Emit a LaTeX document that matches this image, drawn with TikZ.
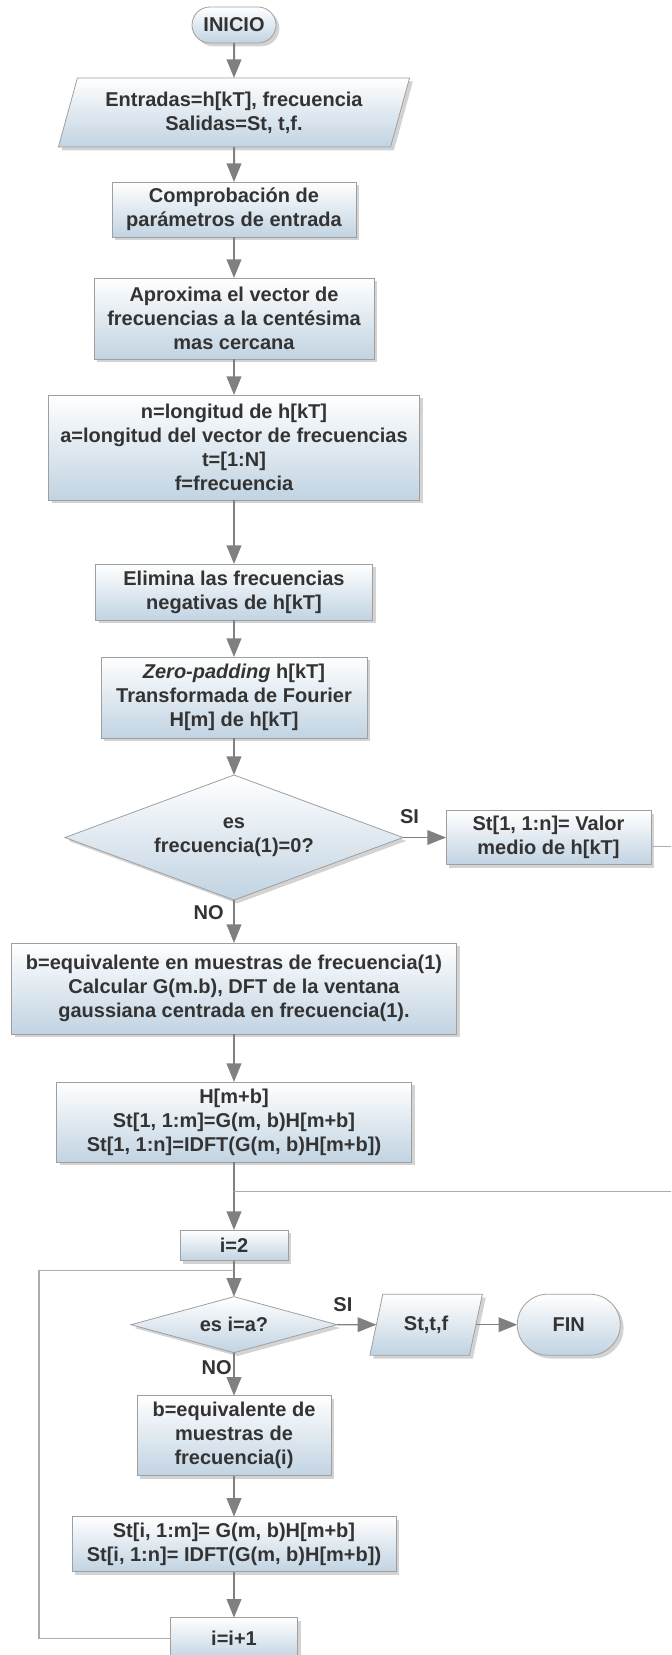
\documentclass[tikz,border=0pt]{standalone}
\usepackage{fontspec}
\setmainfont{Liberation Sans}
\usetikzlibrary{shapes.geometric, arrows.meta, positioning, shadows, calc}
\definecolor{boxblue}{RGB}{193,211,226}
\definecolor{linegray}{RGB}{128,128,128}
\definecolor{thingray}{RGB}{172,172,172}
\tikzset{
    base/.style={draw=gray!75, line width=0.6pt, top color=white, bottom color=boxblue, text=black!80, font=\fontsize{15}{18}\selectfont\bfseries, align=center, inner sep=3pt, outer sep=0pt, drop shadow={opacity=0.35, shadow xshift=2.5pt, shadow yshift=-2.5pt}},
    box/.style={base, rectangle},
    term/.style={base, rectangle, rounded corners=#1},
    io/.style={base, trapezium, trapezium left angle=72, trapezium right angle=108, trapezium stretches=true},
    decision/.style={base, diamond, inner sep=0pt},
    arrow/.style={-{Triangle[length=14pt, width=11pt]}, line width=1.5pt, linegray},
    harrow/.style={arrow, line width=1pt},
    line/.style={line width=0.8pt, thingray},
    lbl/.style={font=\fontsize{15}{18}\selectfont\bfseries, text=black!80, inner sep=1pt}
}
\begin{document}
\begin{tikzpicture}[x=0.75pt, y=-0.75pt]
    \useasboundingbox (0,0) rectangle (671,1655);
    \clip (0,0) rectangle (671,1655);
    \node [term=13.5pt, minimum width=63pt, minimum height=27pt] (ini) at (234,25) {INICIO};
    \node [io, minimum width=264pt, minimum height=51.75pt, below=26.25pt of ini] (ent) {Entradas=h[kT], frecuencia\\Salidas=St, t,f.};
    \node [box, minimum width=183pt, minimum height=41.25pt, below=26.25pt of ent] (comp) {Comprobación de\\parámetros de entrada};
    \node [box, minimum width=210pt, minimum height=60.75pt, below=30.75pt of comp] (aprox) {Aproxima el vector de\\frecuencias a la centésima\\mas cercana};
    \node [box, minimum width=278.25pt, minimum height=78.75pt, below=27pt of aprox] (lon) {n=longitud de h[kT]\\a=longitud del vector de frecuencias\\t=[1:N]\\f=frecuencia};
    \node [box, minimum width=207.75pt, minimum height=42pt, below=48pt of lon] (elim) {Elimina las frecuencias\\negativas de h[kT]};
    \node [box, minimum width=199.5pt, minimum height=60.75pt, below=27.75pt of elim] (zero) {\textit{Zero-padding} h[kT]\\Transformada de Fourier\\H[m] de h[kT]};
    \node [decision, minimum width=253.5pt, minimum height=93.75pt, aspect=2.7, below=27.75pt of zero] (dec1) {es\\frecuencia(1)=0?};
    \node [box, minimum width=153.75pt, minimum height=40pt, right=32.25pt of dec1] (val) {St[1, 1:n]= Valor\\medio de h[kT]};
    \node [box, minimum width=333.75pt, minimum height=68.25pt, below=32.25pt of dec1] (bfreq) {b=equivalente en muestras de frecuencia(1)\\Calcular G(m.b), DFT de la ventana\\gaussiana centrada en frecuencia(1).};
    \node [box, minimum width=266.25pt, minimum height=60pt, below=36pt of bfreq] (hmb) {H[m+b]\\St[1, 1:m]=G(m, b)H[m+b]\\St[1, 1:n]=IDFT(G(m, b)H[m+b])};
    \node [box, minimum width=81pt, minimum height=23pt, below=51pt of hmb] (idos) {i=2};
    \node [decision, minimum width=154.5pt, minimum height=42pt, aspect=3.7, below=27pt of idos] (dec2) {es i=a?};
    \node [io, minimum width=84.75pt, minimum height=45.75pt, trapezium left angle=73, trapezium right angle=107, right=29.5pt of dec2] (out) {St,t,f};
    \node [term=22.8pt, minimum width=77.25pt, minimum height=45.75pt, right=31pt of out] (fin) {FIN};
    \node [box, minimum width=145.5pt, minimum height=60pt, below=32.25pt of dec2] (bfi) {b=equivalente de\\muestras de\\frecuencia(i)};
    \node [box, minimum width=243pt, minimum height=41.25pt, below=30.75pt of bfi] (sti) {St[i, 1:m]= G(m, b)H[m+b]\\St[i, 1:n]= IDFT(G(m, b)H[m+b])};
    \node [box, minimum width=95.25pt, minimum height=31.5pt, below=34.5pt of sti] (inc) {i=i+1};
    % puntos de union
    \coordinate (mrg) at ($(hmb.south)!0.43!(idos.north)$);
    \coordinate (lpin) at ($(idos.south)!0.26!(dec2.north)$);
    \coordinate (lpx) at (39,0);
    \coordinate (rgt) at (690,0);
    \draw [arrow] (ini) -- (ent);
    \draw [arrow] (ent) -- (comp);
    \draw [arrow] (comp) -- (aprox);
    \draw [arrow] (aprox) -- (lon);
    \draw [arrow] (lon) -- (elim);
    \draw [arrow] (elim) -- (zero);
    \draw [arrow] (zero) -- (dec1);
    \draw [harrow] (dec1) -- node [lbl, pos=0.15, above, yshift=9pt] {SI} (val);
    \draw [arrow] (dec1) -- node [lbl, pos=0.3, left, xshift=-6pt] {NO} (bfreq);
    \draw [arrow] (bfreq) -- (hmb);
    \draw [arrow] (hmb) -- (idos);
    \draw [arrow] (idos) -- (dec2);
    \draw [harrow] (dec2) -- node [lbl, pos=0.15, above, yshift=8pt] {SI} (out);
    \draw [harrow] (out) -- (fin);
    \draw [arrow] (dec2) -- node [lbl, pos=0.35, left] {NO} (bfi);
    \draw [arrow] (bfi) -- (sti);
    \draw [arrow] (sti) -- (inc);
    \draw [line] ([yshift=-7pt]val.east) -| (rgt |- mrg) -- (mrg);
    \draw [line] (inc.west) -| (lpx |- lpin) -- (lpin);
\end{tikzpicture}
\end{document}
